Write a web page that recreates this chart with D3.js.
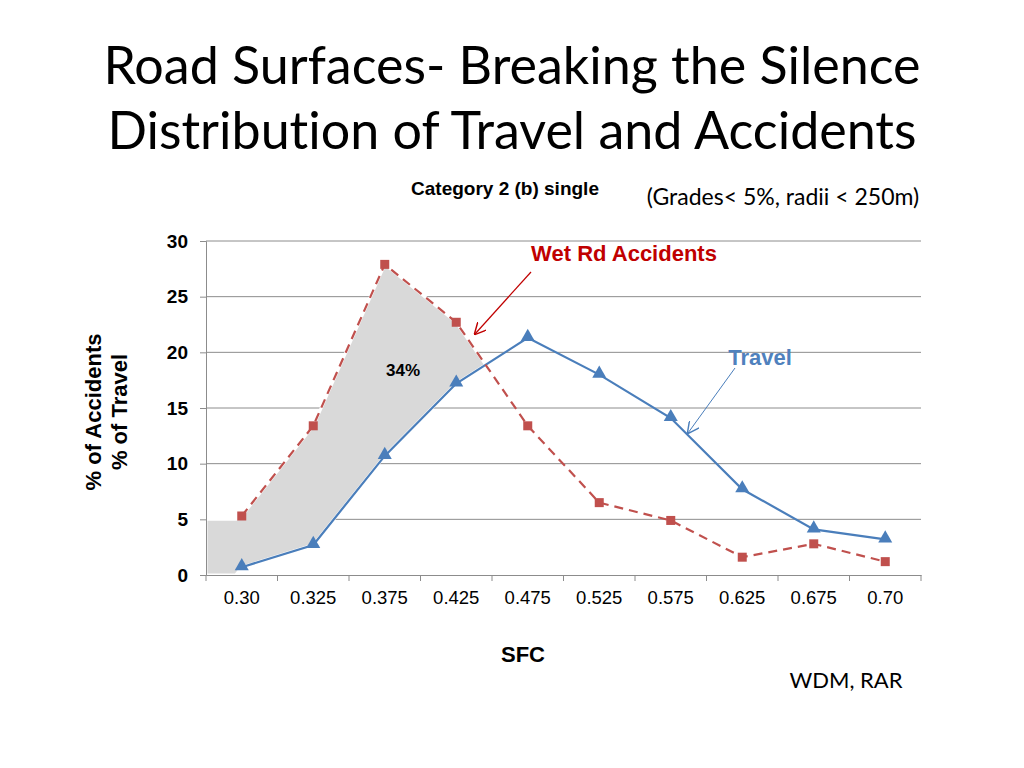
<!DOCTYPE html>
<html><head><meta charset="utf-8">
<script src="https://cdn.jsdelivr.net/npm/d3@7"></script>
<style>body{margin:0;background:#fff} text{font-variant-ligatures:none;font-feature-settings:"liga" 0}</style>
</head><body>
<svg id="c" width="1024" height="768"></svg>
<script>
const categories = ["0.30","0.325","0.375","0.425","0.475","0.525","0.575","0.625","0.675","0.70"];
const accidents = [5.3,13.4,27.9,22.7,13.4,6.5,4.9,1.6,2.8,1.2];
const travel = [0.7,2.7,10.7,17.2,21.3,18.0,14.1,7.7,4.1,3.2];
const yTicks = [0,5,10,15,20,25,30];

const svg = d3.select("#c");
const L=206,R=921,T=241,B=575;
const x = d3.scaleBand().domain(categories).range([L,R]);
const y = d3.scaleLinear().domain([0,30]).range([B,T]);
const cx = c => x(c)+x.bandwidth()/2;

// titles
const title = svg.append("g").attr("font-family","Lato, 'Open Sans', sans-serif").attr("font-size",52).attr("fill","#000");
title.append("text").attr("x",512).attr("y",84).attr("text-anchor","middle").text("Road Surfaces- Breaking the Silence");
title.append("text").attr("x",512).attr("y",149).attr("text-anchor","middle").text("Distribution of Travel and Accidents");

svg.append("text").attr("x",505).attr("y",195).attr("text-anchor","middle")
  .attr("font-family","Liberation Sans, Arial").attr("font-weight","bold").attr("font-size",19).text("Category 2 (b) single");
svg.append("text").attr("x",783).attr("y",205).attr("text-anchor","middle")
  .attr("font-family","Lato, 'Open Sans', sans-serif").attr("font-size",23).text("(Grades< 5%, radii < 250m)");

// grid
svg.append("g").selectAll("line").data(yTicks.slice(1)).join("line")
  .attr("x1",L).attr("x2",R).attr("y1",d=>y(d)).attr("y2",d=>y(d))
  .attr("stroke","#8c8c8c").attr("stroke-width",1);

// shaded area between curves: left edge + accidents up to crossing, then travel back
const i0=3,i1=4;
const d0=accidents[i0]-travel[i0], d1=accidents[i1]-travel[i1];
const t=d0/(d0-d1);
const crossX = cx(categories[i0])+t*(cx(categories[i1])-cx(categories[i0]));
const crossY = accidents[i0]+t*(accidents[i1]-accidents[i0]);
const poly=[[L,y(5)],[cx(categories[0])-6,y(5)]];
for(let i=0;i<=i0;i++) poly.push([cx(categories[i]),y(accidents[i])]);
poly.push([crossX,y(crossY)]);
for(let i=i0;i>=0;i--) poly.push([cx(categories[i]),y(travel[i])]);
poly.push([cx(categories[0])-6,y(0)],[L,y(0)]);
svg.append("path").attr("d","M"+poly.map(p=>p.join(",")).join("L")+"Z")
  .attr("fill","#d9d9d9").attr("stroke","#fff").attr("stroke-width",3).attr("stroke-linejoin","round");

// axes
const ya = svg.append("g").attr("transform",`translate(${L},0)`)
  .call(d3.axisLeft(y).tickValues(yTicks).tickSize(6).tickPadding(12));
ya.select(".domain").attr("stroke","#8c8c8c");
ya.selectAll(".tick line").attr("stroke","#8c8c8c");
ya.selectAll("text").attr("font-family","Liberation Sans, Arial").attr("font-weight","bold").attr("font-size",19).attr("fill","#000");

const xa = svg.append("g").attr("transform",`translate(0,${B})`)
  .call(d3.axisBottom(x).tickSize(0).tickPadding(16));
xa.select(".domain").attr("stroke","#8c8c8c");
xa.selectAll("text").attr("font-family","Liberation Sans, Arial").attr("font-size",18.5).attr("fill","#000");
const bounds = categories.map(c=>x(c)).concat([R]);
svg.append("g").selectAll("line").data(bounds).join("line")
  .attr("x1",d=>d).attr("x2",d=>d).attr("y1",B).attr("y2",B+6).attr("stroke","#8c8c8c");

// axis titles
svg.append("text").attr("x",523).attr("y",662).attr("text-anchor","middle")
  .attr("font-family","Liberation Sans, Arial").attr("font-weight","bold").attr("font-size",22).text("SFC");
const yl = svg.append("text").attr("transform","translate(101,412) rotate(-90)").attr("text-anchor","middle")
  .attr("font-family","Liberation Sans, Arial").attr("font-weight","bold").attr("font-size",22);
yl.append("tspan").attr("x",0).attr("dy",0).text("% of Accidents");
yl.append("tspan").attr("x",0).attr("dy",26).text("% of Travel");

svg.append("text").attr("x",846).attr("y",688).attr("text-anchor","middle")
  .attr("font-family","Lato, 'Open Sans', sans-serif").attr("font-size",22).text("WDM, RAR");

// lines
const line = (arr)=>d3.line().x((d,i)=>cx(categories[i])).y(d=>y(d))(arr);
svg.append("path").attr("d",line(travel)).attr("fill","none").attr("stroke","#4a7ebb").attr("stroke-width",2.2);
svg.append("path").attr("d",line(accidents)).attr("fill","none").attr("stroke","#c0504d").attr("stroke-width",2.2).attr("stroke-dasharray","9,6");

svg.append("g").selectAll("path").data(travel).join("path")
  .attr("d",d3.symbol().type(d3.symbolTriangle).size(85))
  .attr("transform",(d,i)=>`translate(${cx(categories[i])},${y(d)-1})`).attr("fill","#4a7ebb");
svg.append("g").selectAll("rect").data(accidents).join("rect")
  .attr("x",(d,i)=>cx(categories[i])-4.5).attr("y",d=>y(d)-4.5).attr("width",9).attr("height",9).attr("fill","#c0504d");

svg.append("text").attr("x",403).attr("y",376).attr("text-anchor","middle")
  .attr("font-family","Liberation Sans, Arial").attr("font-weight","bold").attr("font-size",17).text("34%");

// annotations
svg.append("defs").html(`<marker id="ar1" viewBox="0 0 10 10" refX="9" refY="5" markerWidth="12" markerHeight="12" orient="auto" markerUnits="userSpaceOnUse"><path d="M0,0L10,5L0,10" fill="none" stroke="#c00000" stroke-width="1.2"/></marker>
<marker id="ar2" viewBox="0 0 10 10" refX="9" refY="5" markerWidth="12" markerHeight="12" orient="auto" markerUnits="userSpaceOnUse"><path d="M0,0L10,5L0,10" fill="none" stroke="#4a7ebb" stroke-width="1.2"/></marker>`);
svg.append("text").attr("x",624).attr("y",261).attr("text-anchor","middle")
  .attr("font-family","Liberation Sans, Arial").attr("font-weight","bold").attr("font-size",22).attr("fill","#c00000").text("Wet Rd Accidents");
svg.append("line").attr("x1",531).attr("y1",272).attr("x2",475).attr("y2",334).attr("stroke","#c00000").attr("stroke-width",1.2).attr("marker-end","url(#ar1)");
svg.append("text").attr("x",760).attr("y",365).attr("text-anchor","middle")
  .attr("font-family","Liberation Sans, Arial").attr("font-weight","bold").attr("font-size",22).attr("fill","#4f81bd").text("Travel");
svg.append("line").attr("x1",735).attr("y1",368).attr("x2",688).attr("y2",433).attr("stroke","#4a7ebb").attr("stroke-width",1).attr("marker-end","url(#ar2)");
</script>
</body></html>
